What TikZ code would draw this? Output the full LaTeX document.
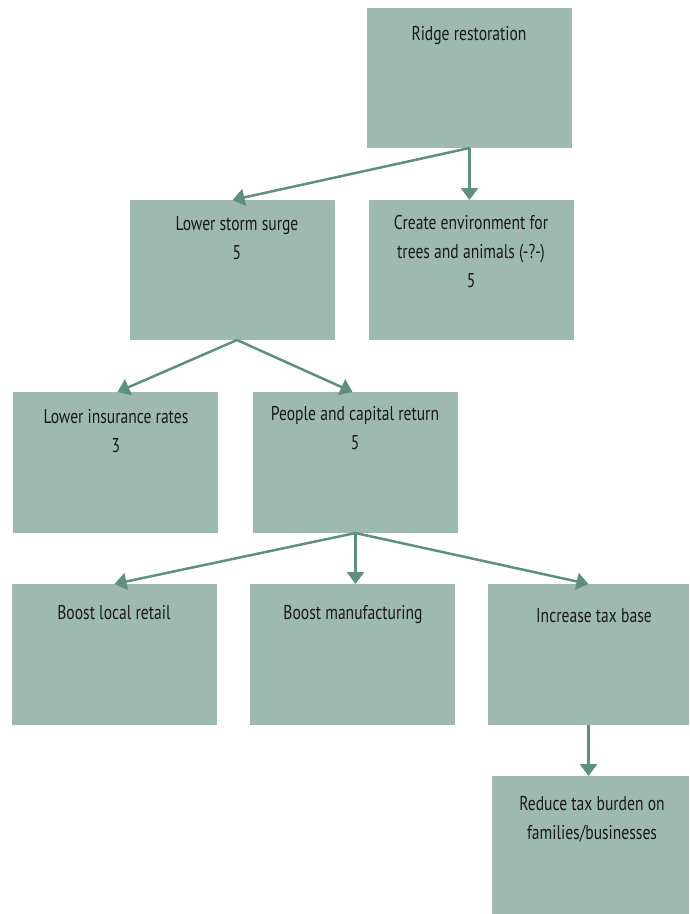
\documentclass[tikz,border=0pt]{standalone}
\usepackage{fontspec}
\setmainfont{PT Sans}[FakeStretch=0.78]
\usetikzlibrary{arrows.meta}
\definecolor{boxfill}{HTML}{9EBAB0}
\definecolor{arrowc}{HTML}{5F8F7F}
\definecolor{txt}{HTML}{1A1A1A}
\begin{document}
\begin{tikzpicture}[x=1pt,y=-1pt,
  box/.style={fill=boxfill,draw=none,minimum width=205pt,minimum height=141pt,anchor=north west,inner sep=0pt,outer sep=0pt},
  lbl/.style={anchor=north,align=center,font=\fontsize{20}{29}\selectfont,text=txt,inner sep=0pt},
  arr/.style={draw=arrowc,line width=2.5pt,-{Triangle[width=17pt,length=12pt]}}]
\useasboundingbox (0,0) rectangle (689,914);
\node[box,minimum height=140pt] (r) at (367,8) {};
\node[box,minimum height=140pt] (s) at (130,200) {};
\node[box,minimum height=140pt] (e) at (369,200) {};
\node[box] (i) at (13,392) {};
\node[box] (p) at (253,392) {};
\node[box] (l) at (12,584) {};
\node[box] (m) at (250,584) {};
\node[box,minimum width=201pt] (t) at (488,584) {};
\node[box,minimum width=197pt,minimum height=138pt] (d) at (492,776) {};
\node[lbl] (tr) at (469,26) {Ridge restoration};
\node[lbl] (ts) at (237,216) {Lower storm surge\\5};
\node[lbl] (te) at (471,215) {Create environment for\\trees and animals (-?-)\\5};
\node[lbl] (ti) at (116,409) {Lower insurance rates\\3};
\node[lbl] (tp) at (355,406) {People and capital return\\5};
\node[lbl] (tl) at (114,605) {Boost local retail};
\node[lbl] (tm) at (353,605) {Boost manufacturing};
\node[lbl] (tt) at (594,608) {Increase tax base};
\node[lbl] (td) at (592,796) {Reduce tax burden on\\families/businesses};
\coordinate (sb) at ([xshift=4.5pt]s.south);
\draw[arr] (r.south) -- (s.north);
\draw[arr] (r.south) -- (r.south |- e.north);
\draw[arr] (sb) -- ([xshift=2pt]i.north);
\draw[arr] (sb) -- ([xshift=-3pt]p.north);
\draw[arr] (p.south) -- (l.north);
\draw[arr] (p.south) -- (p.south |- m.north);
\draw[arr] (p.south) -- (t.north);
\draw[arr] (t.south) -- (t.south |- d.north);
\end{tikzpicture}
\end{document}
